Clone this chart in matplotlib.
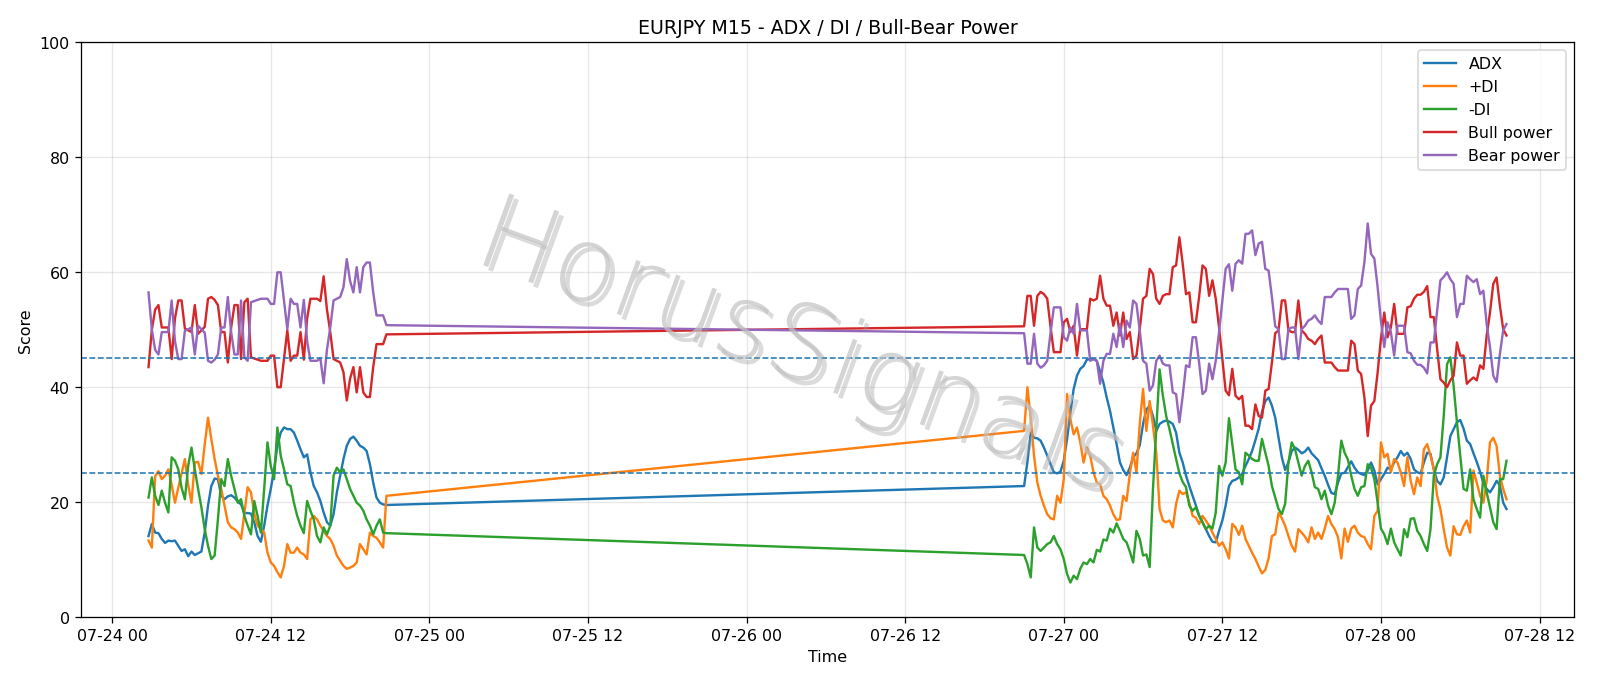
import matplotlib
matplotlib.use("Agg")
import matplotlib.pyplot as plt
import matplotlib.dates as mdates
import matplotlib.patheffects as pe
import pandas as pd

# ---------------- data ----------------
seg1_start = "2026-07-24 02:45"
seg2_start = "2026-07-26 21:00"

adx_1 = [14.1, 16.2, 14.7, 14.6, 13.6, 12.9, 13.3, 13.2, 13.3, 12.4,
         11.5, 11.8, 10.6, 11.4, 10.8, 11.1, 11.4, 14.7, 19.4, 22.8,
         24.1, 24.0, 21.1, 20.5, 21.0, 21.2, 20.8, 20.1, 19.6, 18.1,
         18.1, 18.0, 16.5, 14.1, 13.1, 15.9, 19.4, 22.3, 25.7, 29.8,
         32.1, 33.0, 32.7, 32.7, 32.1, 30.7, 29.2, 27.8, 28.3, 25.2,
         22.8, 21.7, 20.2, 18.2, 16.5, 15.9, 17.9, 21.7, 24.6, 27.5,
         29.8, 31.0, 31.4, 30.7, 29.8, 29.5, 28.9, 26.6, 23.4, 20.8,
         19.9, 19.6, 19.5]
pdi_1 = [13.3, 12.1, 24.5, 25.4, 24.0, 24.6, 25.7, 23.0, 19.9, 22.5,
         25.0, 27.5, 23.0, 19.9, 26.9, 27.0, 24.9, 30.0, 34.7, 31.0,
         27.5, 24.6, 22.3, 19.4, 16.5, 15.6, 15.3, 14.7, 13.6, 18.0,
         22.6, 21.7, 18.0, 15.9, 15.3, 14.7, 11.2, 9.5, 8.9, 7.8,
         6.9, 8.9, 12.7, 11.2, 11.2, 12.1, 11.2, 10.9, 10.1, 17.0,
         17.6, 17.0, 15.9, 15.0, 14.1, 13.6, 12.4, 10.7, 9.8, 8.9,
         8.4, 8.6, 8.9, 9.5, 12.7, 11.8, 10.9, 14.7, 14.1, 13.8,
         13.0, 12.1, 21.1]
mdi_1 = [20.8, 24.3, 21.1, 19.5, 22.0, 19.9, 18.2, 27.8, 27.2, 25.7,
         22.5, 20.5, 26.3, 29.5, 25.7, 22.3, 19.1, 15.3, 12.4, 10.1,
         10.7, 17.0, 24.0, 22.8, 27.5, 24.6, 22.3, 19.9, 20.5, 17.6,
         15.9, 14.4, 20.2, 17.6, 14.7, 22.3, 30.4, 26.3, 24.0, 33.0,
         28.1, 25.7, 23.1, 22.8, 19.9, 17.6, 15.9, 14.6, 20.2, 18.5,
         17.0, 14.1, 13.0, 15.6, 14.4, 15.9, 24.6, 26.0, 25.2, 25.7,
         24.0, 22.3, 21.1, 19.9, 19.4, 18.5, 17.0, 15.9, 14.4, 15.9,
         17.0, 14.7, 14.6]
bull_1 = [43.5, 50.0, 53.5, 54.3, 50.4, 50.4, 50.4, 44.9, 52.0, 55.1,
          55.1, 50.2, 49.9, 49.6, 54.3, 49.3, 49.9, 50.5, 55.4, 55.7,
          55.2, 54.3, 49.6, 49.6, 44.3, 50.4, 54.3, 54.3, 44.9, 54.8,
          55.4, 45.2, 45.0, 44.8, 44.6, 44.6, 44.6, 45.5, 45.5, 40.0,
          40.0, 44.9, 49.9, 44.6, 45.5, 45.5, 49.6, 44.8, 52.0, 55.4,
          55.4, 55.4, 55.0, 59.3, 53.5, 49.6, 44.9, 44.6, 44.3, 42.6,
          37.7, 41.5, 43.5, 39.1, 43.5, 39.1, 38.3, 38.3, 43.5, 47.5,
          47.5, 47.5, 49.2]
bear_1 = [56.5, 50.0, 46.5, 45.7, 49.6, 49.6, 49.6, 55.1, 48.0, 44.9,
          44.9, 49.8, 50.1, 50.4, 45.7, 50.7, 50.1, 49.5, 44.6, 44.3,
          44.8, 45.7, 50.4, 50.4, 55.7, 49.6, 45.7, 45.7, 55.1, 45.2,
          44.6, 54.8, 55.0, 55.2, 55.4, 55.4, 55.4, 54.5, 54.5, 60.0,
          60.0, 55.1, 50.1, 55.4, 54.5, 54.5, 50.4, 55.2, 48.0, 44.6,
          44.6, 44.6, 45.0, 40.7, 46.5, 50.4, 55.1, 55.4, 55.7, 57.4,
          62.3, 58.5, 56.5, 60.9, 56.5, 60.9, 61.7, 61.7, 56.5, 52.5,
          52.5, 52.5, 50.8]

adx_2 = [22.8, 27.0, 32.1, 31.2, 31.1, 30.7, 29.5, 28.1, 26.6, 25.2,
         25.0, 25.3, 27.2, 31.0, 35.6, 39.7, 42.0, 43.2, 43.7, 44.8,
         44.9, 44.9, 44.6, 42.7, 40.8, 38.2, 35.9, 33.0, 30.1, 26.9,
         25.6, 24.7, 26.0, 27.8, 28.5, 29.9, 33.6, 36.1, 36.8, 35.0,
         32.4, 33.6, 34.0, 34.2, 34.0, 33.6, 32.1, 28.6, 26.9, 24.6,
         22.8, 21.1, 19.4, 17.6, 16.5, 15.3, 14.1, 13.1, 13.0, 15.0,
         16.8, 19.4, 22.8, 23.7, 23.9, 24.3, 24.9, 26.3, 27.5, 28.9,
         30.8, 32.8, 35.7, 37.6, 38.2, 36.8, 34.7, 31.2, 27.8, 25.6,
         26.9, 28.9, 29.5, 29.1, 28.5, 28.8, 29.5, 28.5, 27.9, 27.3,
         25.9, 24.6, 23.0, 21.6, 21.4, 23.4, 25.0, 25.1, 26.1, 27.1,
         26.0, 25.2, 24.9, 24.7, 25.5, 26.9, 25.5, 23.1, 24.0, 24.9,
         26.0, 25.7, 26.9, 27.8, 28.9, 28.1, 28.6, 27.5, 25.7, 25.2,
         25.0, 26.9, 28.6, 28.4, 25.7, 23.7, 23.1, 24.3, 27.8, 31.5,
         32.7, 33.9, 34.3, 32.8, 30.7, 30.1, 28.5, 27.0, 25.3, 23.3,
         22.3, 21.7, 22.6, 23.7, 22.9, 19.9, 18.8]
pdi_2 = [32.4, 40.0, 34.7, 28.1, 23.4, 21.1, 19.4, 17.9, 17.2, 17.0,
         21.1, 19.9, 24.0, 38.8, 34.4, 31.8, 33.0, 30.4, 26.9, 29.5,
         28.1, 25.2, 23.4, 23.1, 21.1, 20.5, 19.4, 17.9, 16.9, 17.0,
         21.1, 20.2, 24.9, 28.6, 25.2, 33.6, 39.7, 32.4, 37.6, 33.3,
         28.6, 18.8, 16.8, 16.5, 16.8, 15.6, 19.7, 22.0, 21.4, 21.7,
         19.9, 17.6, 17.3, 16.2, 17.6, 16.8, 15.9, 14.7, 13.6, 12.4,
         13.0, 11.8, 10.2, 16.2, 15.6, 14.3, 15.9, 13.6, 12.4, 11.2,
         10.1, 8.8, 7.6, 8.2, 10.2, 14.1, 14.4, 18.1, 17.2, 15.9,
         14.1, 12.4, 11.4, 15.3, 14.7, 14.0, 13.0, 15.6, 13.6, 14.7,
         13.6, 15.4, 17.6, 16.2, 15.3, 13.9, 10.2, 15.4, 13.1, 15.4,
         15.9, 14.7, 14.1, 13.9, 12.7, 11.8, 17.6, 18.5, 30.4, 27.8,
         28.4, 25.2, 27.5, 26.9, 25.2, 22.8, 27.8, 23.7, 21.4, 24.3,
         22.8, 29.2, 30.1, 28.1, 25.7, 21.1, 18.8, 15.3, 12.1, 10.7,
         15.8, 14.4, 14.3, 15.8, 16.8, 14.7, 25.5, 23.4, 21.1, 19.9,
         23.7, 30.4, 31.2, 29.8, 24.6, 22.3, 20.5]
mdi_2 = [10.8, 9.2, 6.9, 15.6, 12.1, 11.5, 12.1, 12.7, 13.0, 14.1,
         12.7, 11.8, 10.1, 7.5, 6.0, 7.2, 6.6, 8.4, 9.5, 9.2,
         10.1, 9.5, 11.7, 11.4, 13.5, 13.3, 15.4, 14.7, 16.3, 15.0,
         13.6, 13.0, 11.4, 9.5, 15.0, 13.6, 10.7, 10.9, 8.7, 22.3,
         32.7, 43.1, 38.5, 35.0, 32.7, 30.1, 27.5, 25.0, 23.5, 22.6,
         19.4, 18.5, 19.1, 17.6, 16.5, 15.3, 15.9, 15.4, 18.2, 26.3,
         24.6, 26.9, 34.6, 30.1, 25.7, 25.2, 23.1, 28.6, 28.1, 27.5,
         27.2, 27.2, 31.0, 28.6, 26.3, 22.8, 20.8, 18.8, 17.9, 19.7,
         26.9, 30.4, 29.2, 26.9, 24.6, 26.3, 27.2, 25.2, 22.6, 22.3,
         20.5, 22.0, 19.4, 17.9, 19.9, 24.6, 30.7, 28.6, 27.4, 24.6,
         22.3, 21.1, 22.6, 22.8, 26.6, 26.0, 24.0, 19.9, 15.4, 14.4,
         12.7, 15.4, 13.0, 11.8, 10.7, 15.3, 13.9, 17.1, 17.2, 15.0,
         14.1, 12.7, 11.5, 15.3, 24.6, 26.6, 27.8, 35.0, 44.0, 45.2,
         40.2, 33.9, 28.1, 22.3, 22.0, 25.7, 20.5, 18.8, 17.3, 24.6,
         21.7, 19.1, 16.5, 15.3, 24.0, 24.0, 27.2]
bull_2 = [50.6, 55.9, 55.9, 50.7, 55.9, 56.6, 56.2, 55.4, 50.5, 46.1,
          46.1, 46.1, 51.3, 51.9, 49.6, 50.7, 45.5, 50.1, 50.1, 50.1,
          55.4, 55.1, 55.4, 59.4, 55.4, 54.2, 54.2, 50.7, 53.0, 49.0,
          53.0, 48.4, 49.6, 44.9, 45.5, 50.1, 55.4, 55.9, 60.6, 59.7,
          55.4, 54.5, 55.9, 56.2, 56.2, 60.9, 61.2, 66.1, 61.5, 56.2,
          56.5, 51.3, 51.3, 55.9, 61.2, 60.6, 55.9, 58.6, 55.4, 50.4,
          44.9, 39.4, 38.6, 43.2, 38.5, 37.9, 38.5, 33.3, 33.3, 32.7,
          37.0, 35.0, 34.7, 39.4, 39.7, 44.3, 49.4, 49.9, 55.1, 55.1,
          49.9, 49.6, 49.6, 55.1, 49.9, 49.3, 48.4, 48.1, 47.5, 48.4,
          49.0, 44.3, 44.3, 44.3, 43.5, 42.9, 42.9, 42.9, 42.9, 48.1,
          47.5, 42.9, 42.3, 38.2, 31.5, 36.8, 37.6, 42.6, 48.5, 53.0,
          48.7, 50.4, 54.5, 49.3, 49.3, 49.3, 53.9, 54.1, 55.4, 56.1,
          56.1, 56.6, 57.6, 52.2, 52.2, 46.7, 41.4, 40.8, 40.0, 41.2,
          42.0, 47.8, 45.5, 45.5, 40.6, 41.2, 41.7, 41.2, 43.8, 43.2,
          49.0, 53.0, 58.0, 59.1, 54.2, 50.1, 49.0]
bear_2 = [49.4, 44.1, 44.1, 49.3, 44.1, 43.4, 43.8, 44.6, 49.5, 53.9,
          53.9, 53.9, 48.7, 48.1, 50.4, 49.3, 54.5, 49.9, 49.9, 49.9,
          44.6, 44.9, 44.6, 40.6, 44.6, 45.8, 45.8, 49.3, 47.0, 51.0,
          47.0, 51.6, 50.4, 55.1, 54.5, 49.9, 44.6, 44.1, 39.4, 40.3,
          44.6, 45.5, 44.1, 43.8, 43.8, 39.1, 38.8, 33.9, 38.5, 43.8,
          43.5, 48.7, 48.7, 44.1, 38.8, 39.4, 44.1, 41.4, 44.6, 49.6,
          55.1, 60.6, 61.4, 56.8, 61.5, 62.1, 61.5, 66.7, 66.7, 67.3,
          63.0, 65.0, 65.3, 60.6, 60.3, 55.7, 50.6, 50.1, 44.9, 44.9,
          50.1, 50.4, 50.4, 44.9, 50.1, 50.7, 51.6, 51.9, 52.5, 51.6,
          51.0, 55.7, 55.7, 55.7, 56.5, 57.1, 57.1, 57.1, 57.1, 51.9,
          52.5, 57.1, 57.7, 61.8, 68.5, 63.2, 62.4, 57.4, 51.5, 47.0,
          51.3, 49.6, 45.5, 50.7, 50.7, 50.7, 46.1, 45.9, 44.6, 43.9,
          43.9, 43.4, 42.4, 47.8, 47.8, 53.3, 58.6, 59.2, 60.0, 58.8,
          58.0, 52.2, 54.5, 54.5, 59.4, 58.8, 58.3, 58.8, 56.2, 56.8,
          51.0, 47.0, 42.0, 40.9, 45.8, 49.9, 51.0]

threshold_levels = [25, 45]
title = "EURJPY M15 - ADX / DI / Bull-Bear Power"
watermark = "HorusSignals"

# ---------------- build series ----------------
t1 = pd.date_range(seg1_start, periods=len(adx_1), freq="15min")
t2 = pd.date_range(seg2_start, periods=len(adx_2), freq="15min")
times = t1.append(t2)
series = [
    ("ADX", adx_1 + adx_2),
    ("+DI", pdi_1 + pdi_2),
    ("-DI", mdi_1 + mdi_2),
    ("Bull power", bull_1 + bull_2),
    ("Bear power", bear_1 + bear_2),
]
for name, vals in series:
    assert len(vals) == len(times), (name, len(vals), len(times))

# ---------------- plot ----------------
fig = plt.figure(figsize=(14, 6), dpi=1600 / 14)
ax = fig.add_axes([0.0504, 0.0991, 0.984 - 0.0504, 0.937 - 0.0991])

for name, vals in series:
    ax.plot(times, vals, label=name, linewidth=1.5)

for lv in threshold_levels:
    ax.axhline(lv, linestyle="--", linewidth=1, color="C0")

ax.set_ylim(0, 100)
ax.set_title(title)
ax.set_xlabel("Time")
ax.set_ylabel("Score")
ax.grid(True, alpha=0.3)
ax.xaxis.set_major_locator(mdates.HourLocator(byhour=[0, 12]))
ax.xaxis.set_major_formatter(mdates.DateFormatter("%m-%d %H"))
ax.legend(loc="upper right")

ax.text(0.482, 0.465, watermark, transform=ax.transAxes,
        fontsize=66, fontweight=200, family=["DejaVu Sans"], rotation=-20,
        ha="center", va="center", color="#c2c2c2", alpha=0.7, zorder=5,
        path_effects=[pe.withSimplePatchShadow(offset=(3, -3), shadow_rgbFace="#9a9a9a", alpha=0.35)])

fig.savefig("out.png", dpi=1600 / 14)
